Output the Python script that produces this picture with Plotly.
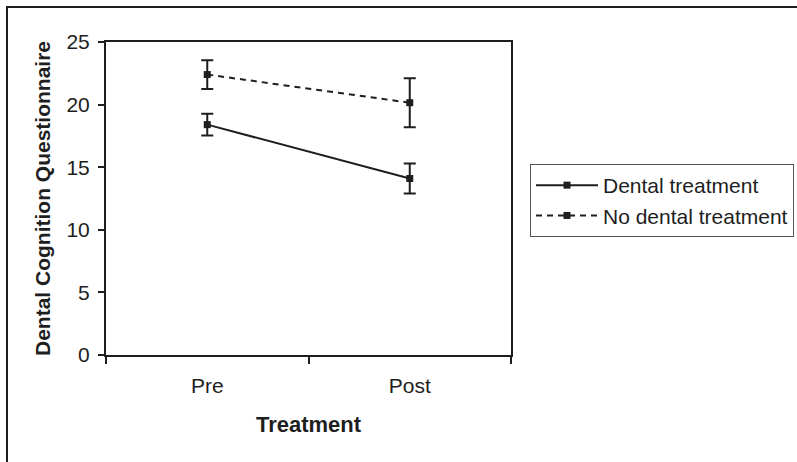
import plotly.graph_objects as go

categories = ["Pre", "Post"]
dental_mean = [18.4, 14.1]
dental_err = [0.87, 1.2]
nodental_mean = [22.4, 20.15]
nodental_err = [1.15, 1.95]
y_ticks = [0, 5, 10, 15, 20, 25]

INK = "#1e1e1e"
FONT = "Liberation Sans, Arial, sans-serif"

fig = go.Figure()
fig.add_trace(go.Scatter(
    x=categories, y=dental_mean, name="Dental treatment",
    mode="lines+markers",
    line=dict(color=INK, width=2),
    marker=dict(symbol="square", size=7, color=INK),
    error_y=dict(type="data", array=dental_err, visible=True, color=INK, thickness=2, width=6),
))
fig.add_trace(go.Scatter(
    x=categories, y=nodental_mean, name="No dental treatment",
    mode="lines+markers",
    line=dict(color=INK, width=2, dash="6px,5px"),
    marker=dict(symbol="square", size=7, color=INK),
    error_y=dict(type="data", array=nodental_err, visible=True, color=INK, thickness=2, width=6),
))

W, H = 797, 462
L, T = 106, 42
R = W - 511
B = H - 355
pw, ph = W - L - R, H - T - B

def px_x(p):
    return (p - L) / pw

def px_y(p):
    return (H - B - p) / ph

fig.add_shape(type="rect", xref="paper", yref="paper",
              x0=px_x(7), x1=px_x(830), y0=px_y(480), y1=px_y(7),
              line=dict(color=INK, width=2), layer="below")

fig.update_layout(
    width=W, height=H,
    margin=dict(l=L, r=R, t=T, b=B, autoexpand=False),
    paper_bgcolor="white", plot_bgcolor="white",
    font=dict(family=FONT, size=21, color=INK),
    showlegend=True,
    legend=dict(
        x=px_x(530), y=px_y(164), xanchor="left", yanchor="top",
        bordercolor="#555", borderwidth=1, bgcolor="white",
        font=dict(family=FONT, size=21, color=INK),
        tracegroupgap=0, itemwidth=62,
    ),
    xaxis=dict(
        type="category", range=[-0.5, 1.5],
        tickson="boundaries", ticks="outside", ticklen=7, tickwidth=1.5, tickcolor=INK,
        showline=True, linecolor=INK, linewidth=2, mirror=True,
        showgrid=False, zeroline=False,
        ticklabelstandoff=11,
        title=dict(text="<b>Treatment</b>", font=dict(size=22), standoff=20),
    ),
    yaxis=dict(
        range=[0, 25], tickvals=y_ticks,
        ticks="outside", ticklen=6, tickwidth=1.5, tickcolor=INK,
        showline=True, linecolor=INK, linewidth=2, mirror=True,
        showgrid=False, zeroline=False,
        ticklabelstandoff=4,
        title=dict(text="<b>Dental Cognition Questionnaire</b>", font=dict(size=21), standoff=10),
    ),
)

fig.write_html("out.html", config={"displayModeBar": False},
               post_script="document.body.style.margin='0px';document.body.style.overflow='hidden';")
